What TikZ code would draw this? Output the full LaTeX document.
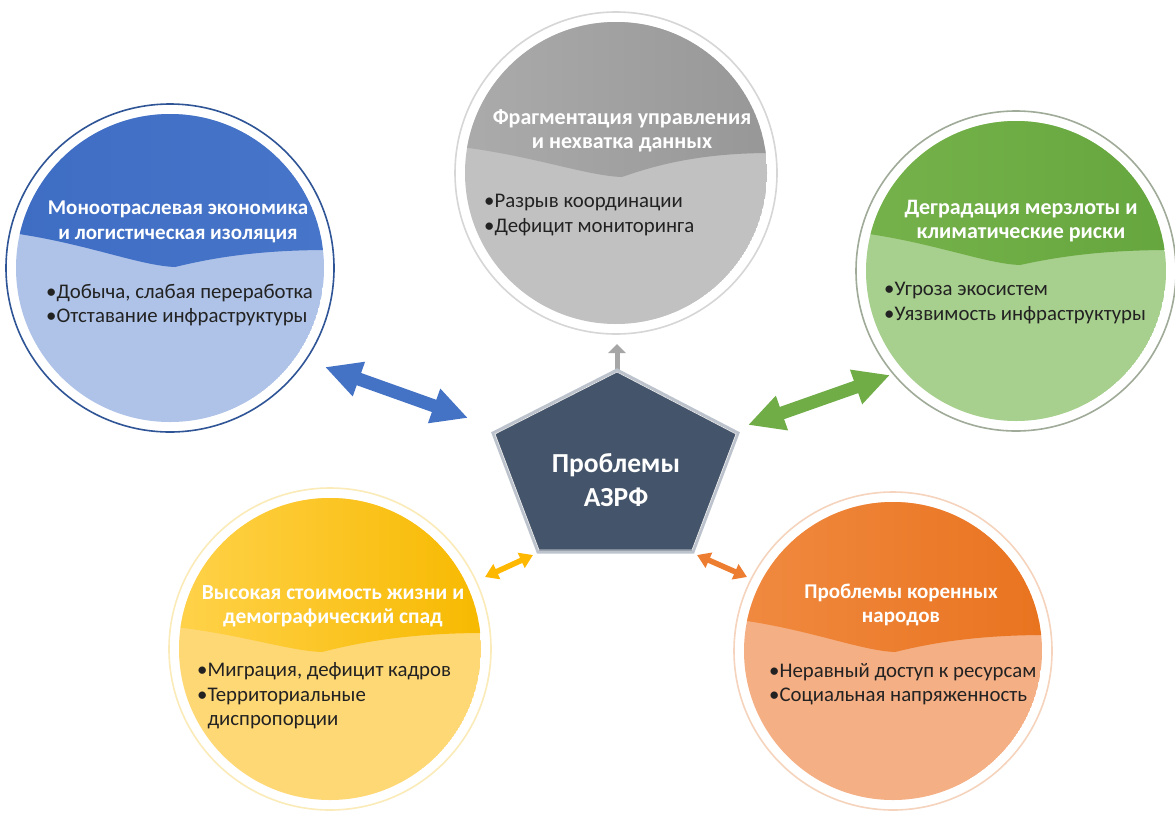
\documentclass[tikz,border=0pt]{standalone}
\usepackage{fontspec}
\setmainfont{Carlito}
\usetikzlibrary{arrows.meta}
% colours: H = header (left/right), B = body, R = ring
\definecolor{cbHL}{HTML}{3E6DC4}\definecolor{cbHR}{HTML}{4775C9}\definecolor{cbB}{HTML}{AFC3E8}\definecolor{cbR}{HTML}{2F5597}
\definecolor{cgHL}{HTML}{ABABAB}\definecolor{cgHR}{HTML}{979797}\definecolor{cgB}{HTML}{C1C1C1}\definecolor{cgR}{HTML}{D6D6D6}
\definecolor{cnHL}{HTML}{76B24B}\definecolor{cnHR}{HTML}{66A63E}\definecolor{cnB}{HTML}{A7CF8D}\definecolor{cnR}{HTML}{9FAA98}
\definecolor{cyHL}{HTML}{FFD24A}\definecolor{cyHR}{HTML}{F7B900}\definecolor{cyB}{HTML}{FFD876}\definecolor{cyR}{HTML}{FBEBB8}
\definecolor{coHL}{HTML}{F08A40}\definecolor{coHR}{HTML}{E9731F}\definecolor{coB}{HTML}{F5AF84}\definecolor{coR}{HTML}{F5D3BC}
\definecolor{pentF}{HTML}{44546A}\definecolor{pentR}{HTML}{BCC3CD}
\definecolor{arB}{HTML}{4472C4}\definecolor{arG}{HTML}{70AD47}\definecolor{arY}{HTML}{FFB800}\definecolor{arO}{HTML}{ED7D31}\definecolor{arS}{HTML}{A6A6A6}
\definecolor{txt}{HTML}{222222}
\tikzset{
  ringnode/.style={circle, line width=1.6pt, inner sep=0pt, fill=white},
  headtext/.style={text=white, align=center, inner sep=0pt},
  hsize/.style={font=\fontsize{#1}{24.5}\selectfont\bfseries},
  bullettext/.style={text=txt, font=\fontsize{20.8}{24.5}\selectfont, align=left, anchor=west, inner sep=0pt},
  bigarrow/.style={line width=13pt, {Triangle[length=36pt,width=34pt]}-{Triangle[length=36pt,width=34pt]}},
  smallarrow/.style={line width=5.5pt, {Triangle[length=13pt,width=16pt]}-{Triangle[length=13pt,width=16pt]}},
  pentstyle/.style={fill=pentF, draw=pentR, line width=3pt, line join=miter},
  coretext/.style={text=white, font=\fontsize{27.5}{34}\selectfont\bfseries, align=center, inner sep=0pt}
}
% #1 name, #2 cx, #3 cy, #4 inner radius, #5 wave y at left, #6 dip x, #7 dip y, #8 wave y at right, #9 colour prefix
\newcommand\bubbleshape[9]{%
  \pgfmathsetmacro\wxl{#2-#4-4}%
  \pgfmathsetmacro\wxr{#2+#4+4}%
  \pgfmathsetmacro\wyt{#3-#4-4}%
  \pgfmathsetmacro\cax{\wxl+0.45*(#6-\wxl)}%
  \pgfmathsetmacro\cay{#5+0.30*(#7-#5)}%
  \pgfmathsetmacro\cbx{#6-0.22*(#6-\wxl)}%
  \pgfmathsetmacro\cby{#7-0.04*(#7-#5)}%
  \pgfmathsetmacro\ccx{#6+0.25*(\wxr-#6)}%
  \pgfmathsetmacro\ccy{#7-0.55*(#7-#8)}%
  \pgfmathsetmacro\cdx{#6+0.55*(\wxr-#6)}%
  \pgfmathsetmacro\cdy{#8}%
  \node[ringnode, draw=#9R, minimum size={(2*#4+20)*1pt}] (#1) at (#2,#3) {};
  \begin{scope}
    \clip (#2,#3) circle[radius=#4 pt];
    \fill[#9B] (#2,#3) circle[radius=#4 pt];
    \shade[left color=#9HL, right color=#9HR] (\wxl,#5) .. controls (\cax,\cay) and (\cbx,\cby) .. (#6,#7)
       .. controls (\ccx,\ccy) and (\cdx,\cdy) .. (\wxr,#8) -- (\wxr,\wyt) -- (\wxl,\wyt) -- cycle;
  \end{scope}
}
\begin{document}
\begin{tikzpicture}[x=1pt,y=-1pt]
\useasboundingbox[fill=white] (0,0) rectangle (1175,812);

% bubbles
\bubbleshape{mono}{170}{268}{154}{233}{175}{267}{250}{cb}
\bubbleshape{frag}{616}{173}{151}{147}{622}{177}{153}{cg}
\bubbleshape{perm}{1016}{271}{150}{233}{1020}{265}{250}{cn}
\bubbleshape{cost}{330}{649}{151}{627}{322}{652}{633}{cy}
\bubbleshape{indi}{893}{651}{149}{620}{895}{652}{635}{co}

% header texts
\node[headtext, hsize=21] (mono-h) at (178,222) {Моноотраслевая экономика\\и логистическая изоляция};
\node[headtext, hsize=22] (frag-h) at (622,131) {Фрагментация управления\\и нехватка данных};
\node[headtext, hsize=22] (perm-h) at (1021,221) {Деградация мерзлоты и\\климатические риски};
\node[headtext, hsize=21.5] (cost-h) at (333,606) {Высокая стоимость жизни и\\демографический спад};
\node[headtext, hsize=21] (indi-h) at (901,605) {Проблемы коренных\\народов};

% bullet texts
\node[bullettext] (mono-b) at (46,305) {•Добыча, слабая переработка\\•Отставание инфраструктуры};
\node[bullettext] (frag-b) at (484,215) {•Разрыв координации\\•Дефицит мониторинга};
\node[bullettext] (perm-b) at (884,303) {•Угроза экосистем\\•Уязвимость инфраструктуры};
\node[bullettext] (cost-b) at (197,696) {•Миграция, дефицит кадров\\•Территориальные\\\hphantom{•}диспропорции};
\node[bullettext] (indi-b) at (769,684) {•Неравный доступ к ресурсам\\•Социальная напряженность};

% arrow end points
\coordinate (a1) at (325,367); \coordinate (a2) at (468,418);
\coordinate (g1) at (748,425); \coordinate (g2) at (890,375);
\coordinate (y1) at (485,577); \coordinate (y2) at (533,555);
\coordinate (o1) at (697,555); \coordinate (o2) at (747,577);
\coordinate (s1) at (617,344); \coordinate (s2) at (617,385);

\draw[bigarrow, arB] (a1) -- (a2);
\draw[bigarrow, arG] (g1) -- (g2);
\draw[smallarrow, arY] (y1) -- (y2);
\draw[smallarrow, arO] (o1) -- (o2);
\draw[line width=5pt, arS, {Triangle[length=9pt,width=17pt]}-{Triangle[length=9pt,width=17pt]}] (s1) -- (s2);

% central pentagon
\draw[pentstyle] (617,370) -- (738,433) -- (693,552) -- (538,552) -- (493,433) -- cycle;
\draw[white!85!gray, line width=0.7pt] (617,372) -- (736,434) -- (692,550) -- (539,550) -- (495,434) -- cycle;
\node[coretext] (core) at (616,480) {Проблемы\\АЗРФ};
\end{tikzpicture}
\end{document}
